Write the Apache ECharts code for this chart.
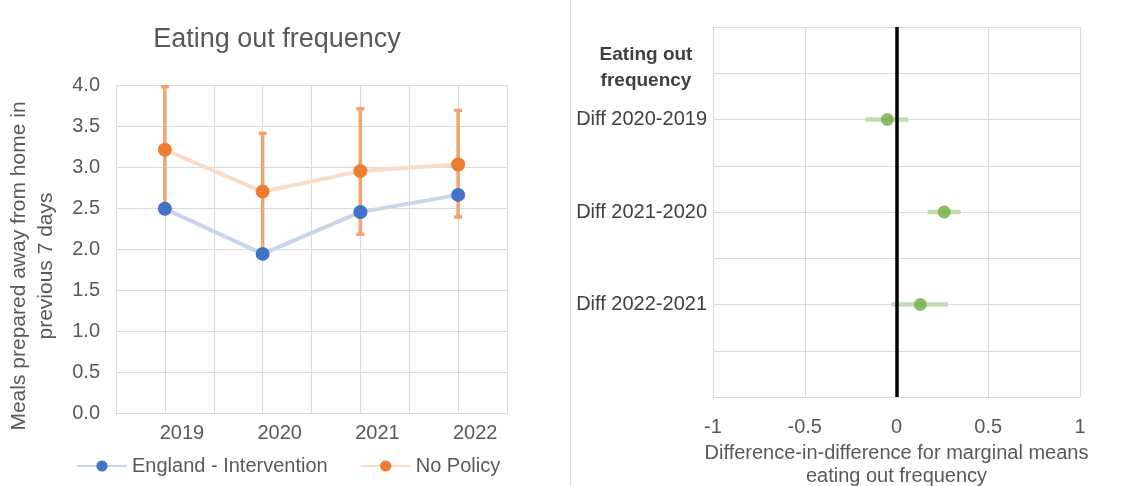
<!DOCTYPE html>
<html>
<head>
<meta charset="utf-8">
<script src="https://cdn.jsdelivr.net/npm/echarts@6/dist/echarts.min.js"></script>
<style>
html,body{margin:0;padding:0;background:#fff;}
#chart{width:1146px;height:486px;}
</style>
</head>
<body>
<div id="chart"></div>
<script>
// ---- Data ----
const years = [2019, 2020, 2021, 2022];
const england = [2.49, 1.94, 2.45, 2.66];
const noPolicy = [3.21, 2.70, 2.95, 3.03];
const noPolicyLow = [2.44, 1.97, 2.18, 2.39];
const noPolicyHigh = [3.98, 3.41, 3.71, 3.69];

const diffLabels = ['Diff 2020-2019', 'Diff 2021-2020', 'Diff 2022-2021'];
const diffMean = [-0.05, 0.26, 0.13];
const diffLow = [-0.17, 0.17, -0.03];
const diffHigh = [0.065, 0.35, 0.28];

const leftTitle = 'Eating out frequency';
const rightHeader = 'Eating out\nfrequency';
const yName = 'Meals prepared away from home in\nprevious 7 days';
const xNameRight = 'Difference-in-difference for marginal means\neating out frequency';
const seriesNames = ['England - Intervention', 'No Policy'];

// ---- Chart ----
const FONT = '"Liberation Sans", Arial, sans-serif';
const TXT = '#595959';
const GRID = '#d9d9d9';
const chart = echarts.init(document.getElementById('chart'), null, {renderer: 'canvas'});

const diffRow = i => 2 * (i + 1);

const option = {
  animation: false,
  backgroundColor: '#fff',
  textStyle: {fontFamily: FONT},
  title: [
    {text: leftTitle, left: 272, top: 21, textAlign: 'center',
     textStyle: {fontFamily: FONT, fontSize: 27, fontWeight: 'normal', color: TXT}},
    {text: rightHeader, left: 641, top: 37, textAlign: 'center',
     textStyle: {fontFamily: FONT, fontSize: 19, fontWeight: 'bold', color: '#404040', lineHeight: 26}}
  ],
  graphic: [
    {type: 'line', shape: {x1: 570.5, y1: 0, x2: 570.5, y2: 486}, style: {stroke: GRID, lineWidth: 1}}
  ],
  legend: {
    data: seriesNames,
    left: 71, top: 451,
    itemWidth: 50, itemHeight: 14, itemGap: 32,
    textStyle: {fontFamily: FONT, fontSize: 20, color: TXT}
  },
  grid: [
    {left: 116, right: 639, top: 85, bottom: 73, outerBoundsMode: 'none', containLabel: false},
    {left: 713, right: 66, top: 27, bottom: 89, outerBoundsMode: 'none', containLabel: false}
  ],
  xAxis: [
    {
      type: 'value', gridIndex: 0, min: 2018.5, max: 2022.5, interval: 0.5,
      axisLine: {show: true, lineStyle: {color: GRID}},
      axisTick: {show: false},
      splitLine: {show: true, lineStyle: {color: GRID}},
      axisLabel: {
        formatter: v => Number.isInteger(v) && years.includes(v) ? String(v) : '',
        fontFamily: FONT, fontSize: 20, color: TXT, margin: 10, padding: [0, 0, 0, 34]
      }
    },
    {
      type: 'value', gridIndex: 1, min: -1, max: 1, interval: 0.5,
      axisLine: {show: true, lineStyle: {color: GRID}},
      axisTick: {show: false},
      splitLine: {show: true, lineStyle: {color: GRID}},
      axisLabel: {fontFamily: FONT, fontSize: 20, color: TXT, margin: 20},
      name: xNameRight, nameLocation: 'middle', nameGap: 45,
      nameTextStyle: {fontFamily: FONT, fontSize: 20, color: TXT, lineHeight: 23}
    }
  ],
  yAxis: [
    {
      type: 'value', gridIndex: 0, min: 0, max: 4, interval: 0.5,
      axisLine: {show: false}, axisTick: {show: false},
      splitLine: {show: true, lineStyle: {color: GRID}},
      axisLabel: {formatter: v => v.toFixed(1), fontFamily: FONT, fontSize: 20, color: TXT, margin: 16},
      name: yName, nameLocation: 'middle', nameGap: 56,
      nameTextStyle: {fontFamily: FONT, fontSize: 21, color: TXT, lineHeight: 27, padding: [0, 34, 0, 0]}
    },
    {
      type: 'value', gridIndex: 1, min: 0, max: 8, interval: 1, inverse: true,
      axisLine: {show: true, lineStyle: {color: GRID}}, axisTick: {show: false},
      splitLine: {show: true, lineStyle: {color: GRID}},
      axisLabel: {
        formatter: v => {
          const i = v / 2 - 1;
          return (Number.isInteger(i) && i >= 0 && i < diffLabels.length) ? diffLabels[i] : '';
        },
        fontFamily: FONT, fontSize: 20, color: '#404040', margin: 6
      }
    }
  ],
  series: [
    {
      name: 'No Policy CI', type: 'custom', xAxisIndex: 0, yAxisIndex: 0, z: 1,
      data: years.map((y, i) => [y, noPolicyLow[i], noPolicyHigh[i]]),
      renderItem: (params, api) => {
        const lo = api.coord([api.value(0), api.value(1)]);
        const hi = api.coord([api.value(0), api.value(2)]);
        const cw = 4;
        const st = {stroke: '#f1a46f', lineWidth: 3.5};
        return {type: 'group', children: [
          {type: 'line', shape: {x1: lo[0], y1: lo[1], x2: hi[0], y2: hi[1]}, style: st},
          {type: 'line', shape: {x1: lo[0] - cw, y1: lo[1], x2: lo[0] + cw, y2: lo[1]}, style: st},
          {type: 'line', shape: {x1: hi[0] - cw, y1: hi[1], x2: hi[0] + cw, y2: hi[1]}, style: st}
        ]};
      }
    },
    {
      name: seriesNames[0], type: 'line', xAxisIndex: 0, yAxisIndex: 0, z: 2,
      data: years.map((y, i) => [y, england[i]]),
      symbol: 'circle', symbolSize: 14,
      lineStyle: {color: '#c9d5eb', width: 4},
      itemStyle: {color: '#4472c4'}
    },
    {
      name: seriesNames[1], type: 'line', xAxisIndex: 0, yAxisIndex: 0, z: 3,
      data: years.map((y, i) => [y, noPolicy[i]]),
      symbol: 'circle', symbolSize: 14,
      lineStyle: {color: '#f9dcc8', width: 4},
      itemStyle: {color: '#ed7d31'}
    },
    {
      name: 'Diff CI', type: 'custom', xAxisIndex: 1, yAxisIndex: 1, z: 2,
      data: diffLabels.map((l, i) => [diffLow[i], diffHigh[i], diffRow(i)]),
      renderItem: (params, api) => {
        const a = api.coord([api.value(0), api.value(2)]);
        const b = api.coord([api.value(1), api.value(2)]);
        return {type: 'line', shape: {x1: a[0], y1: a[1], x2: b[0], y2: b[1]},
                style: {stroke: '#c3dcb2', lineWidth: 4.5}};
      }
    },
    {
      name: 'Diff', type: 'scatter', xAxisIndex: 1, yAxisIndex: 1, z: 4,
      data: diffLabels.map((l, i) => [diffMean[i], diffRow(i)]),
      symbol: 'circle', symbolSize: 13,
      itemStyle: {color: '#70ad47'},
      markLine: {
        silent: true, symbol: 'none', label: {show: false},
        lineStyle: {color: '#000', width: 3.5, type: 'solid'},
        data: [{xAxis: 0}]
      }
    }
  ]
};
chart.setOption(option);
</script>
</body>
</html>
